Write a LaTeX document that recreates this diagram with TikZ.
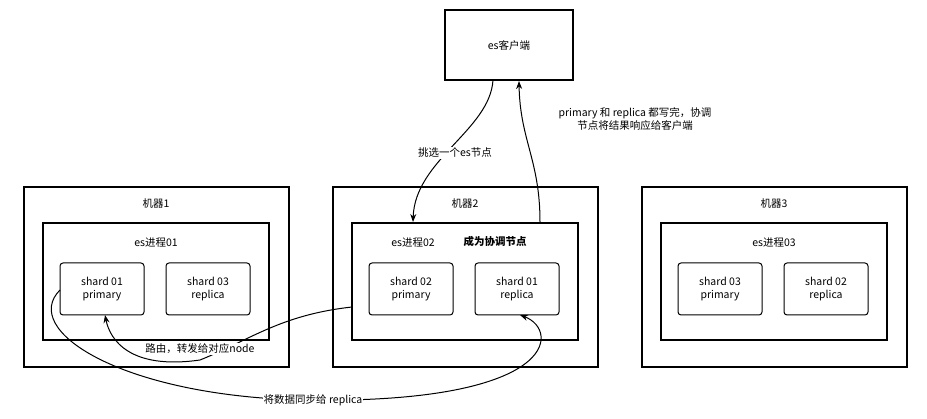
\documentclass[tikz,border=0pt]{standalone}
\usepackage{fontspec}
\setmainfont{Noto Sans CJK SC}
\usetikzlibrary{arrows.meta}
\begin{document}
\begin{tikzpicture}[x=1pt,y=-1pt,
  box/.style={draw,line width=1.2pt},
  inner/.style={draw,line width=1.1pt},
  shard/.style={draw,line width=1pt,rounded corners=3pt,minimum width=84pt,minimum height=52pt,align=center,font=\fontsize{10.5}{13}\selectfont,inner sep=0pt},
  lab/.style={font=\fontsize{10.5}{13}\selectfont},
  arr/.style={line width=1pt,-{Stealth[length=8pt,width=6pt]}},
  lbl/.style={lab,fill=white,inner sep=1pt}]
\useasboundingbox (0,0) rectangle (927,419);
\node[box,minimum width=128pt,minimum height=70pt,lab] (cli) at (509,45) {es客户端};
\foreach \i/\x in {1/24,2/333,3/642}{
  \draw[box] (\x,187) rectangle +(265,180);
  \node[lab] (m\i) at (\x+132,204) {机器\i};
  \draw[inner] (\x+19,223) rectangle +(226,117);
}
\node[lab] (p1) at (156,243) {es进程01};
\node[lab] (p2) at (413,243) {es进程02};
\node[lab,font=\fontsize{10.5}{13}\selectfont\bfseries] (co) at (495,242) {成为协调节点};
\node[lab] (p3) at (774,243) {es进程03};
\node[shard] (a1) at (102,289) {shard 01\\primary};
\node[shard] (a2) at (208,289) {shard 03\\replica};
\node[shard] (b1) at (411,289) {shard 02\\primary};
\node[shard] (b2) at (517,289) {shard 01\\replica};
\node[shard] (c1) at (720,289) {shard 03\\primary};
\node[shard] (c2) at (826,289) {shard 02\\replica};
\coordinate (s1) at (493,80);
\coordinate (e1) at (413,222);
\draw[arr] (s1) .. controls (490,130) and (415,160) .. (e1);
\node[lbl] at (455,153) {挑选一个es节点};
\coordinate (s2) at (540,222);
\coordinate (e2) at (519,81);
\draw[arr] (s2) .. controls (540,160) and (520,140) .. (e2);
\node[lab,align=center] at (635,119) {primary 和 replica 都写完，协调\\节点将结果响应给客户端};
\coordinate (r0) at (352,307);
\coordinate (r1) at (105,315);
\draw[arr] (r0) .. controls (280,315) and (250,340) .. (200,360) .. controls (130,370) and (110,340) .. (r1);
\node[lbl] at (200,349) {路由，转发给对应node};
\coordinate (q0) at (60,290);
\coordinate (q1) at (520,315);
\draw[arr] (q0) .. controls (20,330) and (120,395) .. (300,400) .. controls (560,405) and (560,330) .. (q1);
\node[lbl] at (313,400) {将数据同步给 replica};
\end{tikzpicture}
\end{document}
